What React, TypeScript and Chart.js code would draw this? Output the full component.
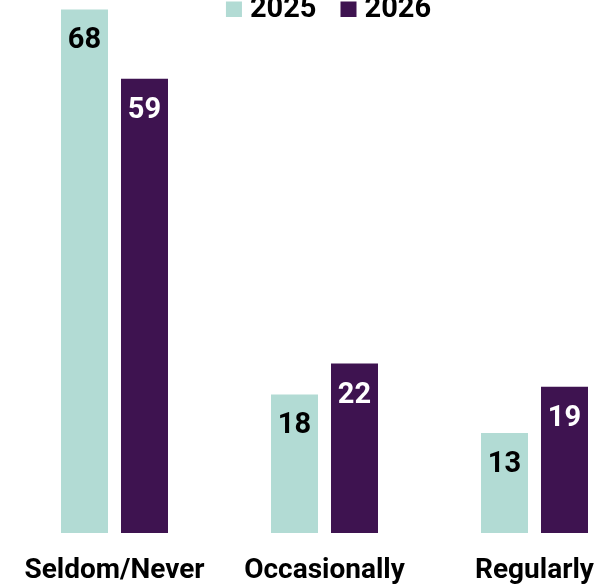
import React, { useEffect, useRef } from "react";
import { Chart, registerables } from "chart.js";

Chart.register(...registerables);

const categories = ["Seldom/Never", "Occasionally", "Regularly"];
const series2025 = [68, 18, 13];
const series2026 = [59, 22, 19];
const seriesNames = ["2025", "2026"];
const colors = ["#b2dbd4", "#3e1350"];
const labelColors = ["#000000", "#ffffff"];

const FONT = "Roboto";
const Y_OFF = 40; // canvas is shifted up by this many px
const CANVAS_W = 660;
const CANVAS_H = 666;

const valueLabels = {
  id: "valueLabels",
  afterDatasetsDraw(chart: any) {
    const ctx = chart.ctx;
    ctx.save();
    ctx.font = `bold 29px ${FONT}`;
    ctx.textAlign = "center";
    ctx.textBaseline = "alphabetic";
    chart.data.datasets.forEach((ds: any, di: number) => {
      const meta = chart.getDatasetMeta(di);
      meta.data.forEach((bar: any, i: number) => {
        ctx.fillStyle = labelColors[di];
        ctx.fillText(String(ds.data[i]), bar.x, bar.y + 39);
      });
    });
    ctx.restore();
  },
};

const customLegend = {
  id: "customLegend",
  afterDraw(chart: any) {
    const ctx = chart.ctx;
    ctx.save();
    ctx.font = `bold 29px ${FONT}`;
    ctx.textBaseline = "alphabetic";
    const box = 16;
    const gap = 8;
    const itemGap = 24;
    const widths = seriesNames.map((n) => ctx.measureText(n).width);
    const total = widths.reduce((a, w) => a + box + gap + w, 0) + itemGap * (seriesNames.length - 1);
    const center = (chart.chartArea.left + chart.chartArea.right) / 2 + 4;
    let x = center - total / 2;
    const baseline = 17.3 + Y_OFF;
    seriesNames.forEach((n, i) => {
      ctx.fillStyle = colors[i];
      ctx.fillRect(x, baseline - 15.8, box, box - 0.5);
      x += box + gap;
      ctx.fillStyle = "#000000";
      ctx.fillText(n, x, baseline);
      x += widths[i] + itemGap;
    });
    ctx.restore();
  },
};

export default function App() {
  const ref = useRef<HTMLCanvasElement>(null);
  useEffect(() => {
    if (!ref.current) return;
    const chart = new Chart(ref.current, {
      type: "bar",
      data: {
        labels: categories,
        datasets: [
          {
            label: seriesNames[0],
            data: series2025,
            backgroundColor: colors[0],
            categoryPercentage: 0.5714,
            barPercentage: 0.7833,
          },
          {
            label: seriesNames[1],
            data: series2026,
            backgroundColor: colors[1],
            categoryPercentage: 0.5714,
            barPercentage: 0.7833,
          },
        ],
      },
      options: {
        responsive: false,
        animation: false,
        layout: { padding: { left: 9.5, right: 20.5, top: 34, bottom: 17.4 } },
        plugins: {
          legend: { display: false },
          tooltip: { enabled: false },
        },
        scales: {
          x: {
            grid: { display: false, drawTicks: false },
            border: { display: false },
            ticks: {
              color: "#000000",
              padding: 21,
              font: { family: FONT, size: 28, weight: "bold" },
              maxRotation: 0,
              autoSkip: false,
            },
          },
          y: {
            display: false,
            min: 0,
            max: 70,
          },
        },
      },
      plugins: [valueLabels, customLegend],
    });
    return () => chart.destroy();
  }, []);
  return (
    <div
      style={{
        position: "fixed",
        left: 0,
        top: 0,
        width: 599,
        height: 584,
        overflow: "hidden",
        background: "#ffffff",
      }}
    >
      <canvas
        ref={ref}
        width={CANVAS_W}
        height={CANVAS_H}
        style={{ position: "absolute", left: 0, top: -Y_OFF, width: CANVAS_W, height: CANVAS_H }}
      />
    </div>
  );
}
